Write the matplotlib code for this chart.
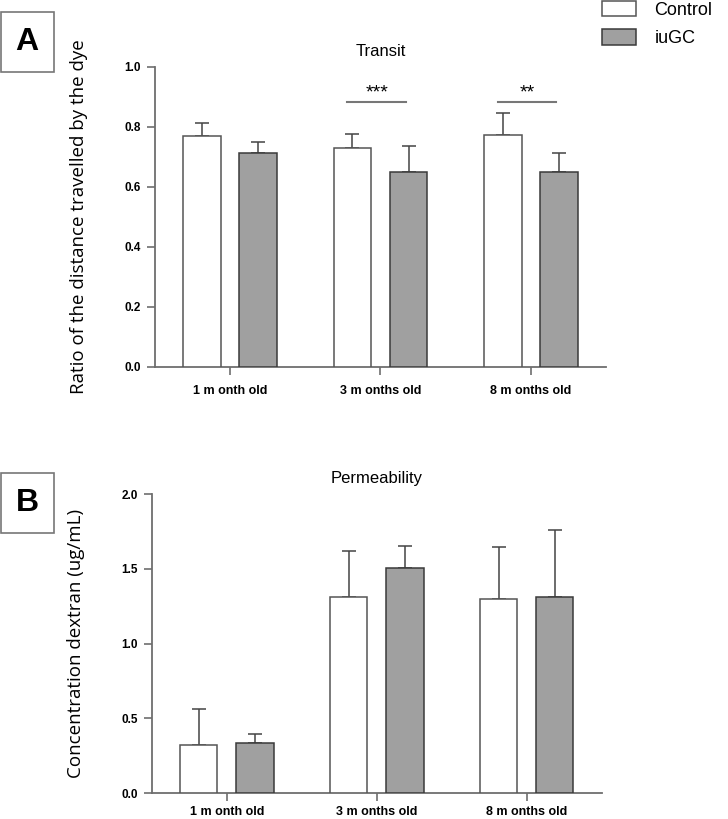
import numpy as np
import matplotlib
matplotlib.use('Agg')
import matplotlib.pyplot as plt
from matplotlib.patches import Patch, Rectangle

ages = ['1 m onth old', '3 m onths old', '8 m onths old']
groups = ['Control', 'iuGC']

transit_ctrl = [0.770, 0.731, 0.772]
transit_ctrl_err = [0.044, 0.046, 0.074]
transit_iugc = [0.712, 0.649, 0.649]
transit_iugc_err = [0.039, 0.089, 0.063]

perm_ctrl = [0.324, 1.311, 1.297]
perm_ctrl_err = [0.240, 0.309, 0.350]
perm_iugc = [0.333, 1.507, 1.315]
perm_iugc_err = [0.064, 0.144, 0.447]

# significance marks in panel A: (group index, stars)
transit_sig = [(1, '***'), (2, '**')]

plt.rcParams['font.family'] = ['Liberation Sans', 'DejaVu Sans']

edge = '#555555'
grey = '#a0a0a0'
axcol = '#6e6e6e'
w = 0.25
off = 0.187


def panel(ax, ctrl, ctrl_err, iugc, iugc_err, ymax, step, title, ylabel, xpad):
    x = np.arange(len(ages))
    ax.bar(x - off, ctrl, w, color='white', edgecolor=edge, linewidth=1.1, zorder=3)
    ax.bar(x + off, iugc, w, color=grey, edgecolor='#3a3a3a', linewidth=1.1, zorder=3)
    ax.errorbar(x - off, ctrl, yerr=[np.zeros(3), ctrl_err], fmt='none',
                ecolor='#444444', elinewidth=1.1, capsize=5, capthick=1.1, zorder=2)
    ax.errorbar(x + off, iugc, yerr=[np.zeros(3), iugc_err], fmt='none',
                ecolor='#444444', elinewidth=1.1, capsize=5, capthick=1.1, zorder=2)
    ax.set_xlim(-0.5, 2.5)
    ax.set_ylim(0, ymax)
    ax.set_yticks(np.arange(0, ymax + step / 2, step))
    ax.set_yticklabels(['%.1f' % v for v in np.arange(0, ymax + step / 2, step)],
                       fontweight='bold', fontsize=8.5)
    ax.set_xticks(x)
    ax.set_xticklabels(ages, fontweight='bold', fontsize=9)
    for s in ['top', 'right']:
        ax.spines[s].set_visible(False)
    for s in ['left', 'bottom']:
        ax.spines[s].set_color(axcol)
        ax.spines[s].set_linewidth(1.3)
    ax.tick_params(axis='y', length=6, width=1.2, color=axcol, pad=4)
    ax.tick_params(axis='x', length=6, width=1.2, color=axcol, pad=xpad)
    ax.set_title(title, fontsize=12, pad=8)
    ax.set_ylabel(ylabel, family=['Open Sans', 'DejaVu Sans'], fontsize=13.5)
    ax.yaxis.set_label_coords(-0.149, 0.5)


fig = plt.figure(figsize=(7.28, 8.19), dpi=100)
axA = fig.add_axes([0.2129, 0.5519, 0.6195, 0.3663])
axB = fig.add_axes([0.2084, 0.0314, 0.6181, 0.3654])

panel(axA, transit_ctrl, transit_ctrl_err, transit_iugc, transit_iugc_err,
      1.0, 0.2, 'Transit', 'Ratio of the distance travelled by the dye', 7)
panel(axB, perm_ctrl, perm_ctrl_err, perm_iugc, perm_iugc_err,
      2.0, 0.5, 'Permeability', 'Concentration dextran (ug/mL)', 3)

for g, stars in transit_sig:
    axA.plot([g - 0.22, g + 0.167], [0.882, 0.882], color='#777777', lw=1.5)
    axA.text(g - 0.025, 0.884, stars, ha='center', va='bottom', fontsize=14)

# panel letters
for letter, y0 in [('A', 1 - 72 / 819), ('B', 1 - 533 / 819)]:
    fig.patches.append(Rectangle((1 / 728, y0), 53 / 728, 60 / 819, transform=fig.transFigure,
                                 facecolor='white', edgecolor='#777777', lw=1.2))
    fig.text(27 / 728, y0 + 30 / 819, letter, ha='center', va='center',
             fontsize=23, fontweight='bold')

handles = [Patch(facecolor='white', edgecolor=edge, lw=1.1),
           Patch(facecolor=grey, edgecolor='#3a3a3a', lw=1.1)]
fig.legend(handles, groups, loc='upper left', bbox_to_anchor=(0.817, 1.008), frameon=False,
           fontsize=13, handlelength=1.9, handleheight=0.95, handletextpad=1.0,
           labelspacing=0.6, borderaxespad=0)

fig.savefig('out.png', dpi=100)
